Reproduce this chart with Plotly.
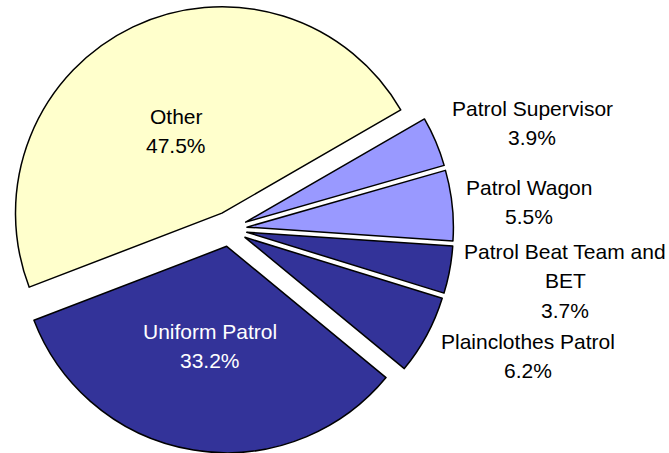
import plotly.graph_objects as go

labels = ["Other", "Uniform Patrol", "Plainclothes Patrol",
          "Patrol Beat Team and BET", "Patrol Wagon", "Patrol Supervisor"]
values = [47.5, 33.2, 6.2, 3.7, 5.5, 3.9]
colors = ["#FFFFCC", "#333399", "#333399", "#333399", "#9999FF", "#9999FF"]
text_colors = ["#000000", "#FFFFFF", "#000000", "#000000", "#000000", "#000000"]
# wrapped display lines for long labels
label_lines = {"Patrol Beat Team and BET": ["Patrol Beat Team and", "BET"]}

W, H = 669, 453
MT, MB = 5, 0
FONT = "Liberation Sans, Arial, sans-serif"
FS = 21

fig = go.Figure(go.Pie(
    labels=labels,
    values=values,
    sort=False,
    direction="counterclockwise",
    rotation=-111,
    pull=[0.085] * len(values),
    marker=dict(colors=colors, line=dict(color="#000000", width=1.5)),
    textinfo="none",
    showlegend=False,
    hoverinfo="label+percent",
    domain=dict(x=[0, 459 / W], y=[0, 1]),
))

# label block positions (pixel centre x, first line y)
label_pos = {
    "Other": (176, 116),
    "Uniform Patrol": (210, 331),
    "Patrol Supervisor": (532, 108),
    "Patrol Wagon": (529, 187),
    "Patrol Beat Team and BET": (565, 251),
    "Plainclothes Patrol": (528, 341),
}
total = sum(values)
ph = H - MT - MB
for lab, val, col in zip(labels, values, text_colors):
    lines = label_lines.get(lab, [lab]) + [f"{val / total * 100:.1f}%"]
    cx, y0 = label_pos[lab]
    for k, line in enumerate(lines):
        py = y0 + k * 29.5
        fig.add_annotation(
            x=cx / W, y=1 - (py - MT) / ph, xref="paper", yref="paper",
            text=line, showarrow=False, xanchor="center", yanchor="middle",
            font=dict(family=FONT, size=FS, color=col),
        )

fig.update_layout(
    width=W, height=H,
    margin=dict(l=0, r=0, t=MT, b=MB),
    paper_bgcolor="#FFFFFF",
    plot_bgcolor="#FFFFFF",
    font=dict(family=FONT, size=FS, color="#000000"),
)

fig.write_html("out.html", config={"displayModeBar": False},
               post_script="document.body.style.margin='0';")
